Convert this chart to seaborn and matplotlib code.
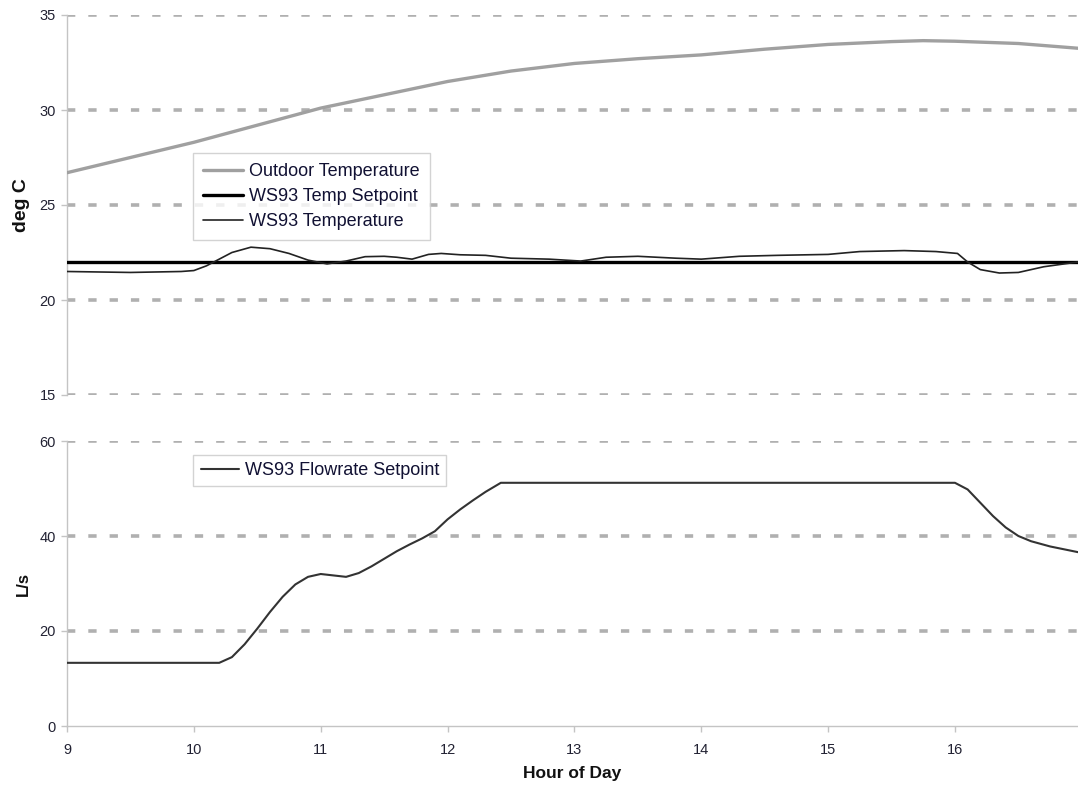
import matplotlib
matplotlib.use("Agg")
import matplotlib.pyplot as plt
import seaborn as sns
import pandas as pd

# ---------------- data ----------------
outdoor_hour = [9.0, 9.5, 10.0, 10.5, 11.0, 11.5, 12.0, 12.5, 13.0, 13.5, 14.0,
                14.5, 15.0, 15.5, 15.75, 16.0, 16.5, 16.97]
outdoor_temp = [26.7, 27.5, 28.3, 29.2, 30.1, 30.8, 31.5, 32.05, 32.45, 32.7, 32.9,
                33.2, 33.45, 33.6, 33.65, 33.62, 33.5, 33.25]

setpoint_hour = [9.0, 16.97]
setpoint_temp = [22.0, 22.0]

ws93_hour = [9.0, 9.5, 9.9, 10.0, 10.1, 10.2, 10.3, 10.45, 10.6, 10.75, 10.9, 11.05,
             11.2, 11.35, 11.5, 11.6, 11.72, 11.85, 11.95, 12.1, 12.3, 12.5, 12.8,
             13.05, 13.25, 13.5, 13.8, 14.0, 14.3, 14.6, 15.0, 15.25, 15.6, 15.85,
             16.02, 16.1, 16.2, 16.35, 16.5, 16.7, 16.97]
ws93_temp = [21.5, 21.45, 21.5, 21.55, 21.8, 22.15, 22.5, 22.78, 22.7, 22.45, 22.1, 21.9,
             22.05, 22.28, 22.3, 22.25, 22.15, 22.4, 22.45, 22.38, 22.35, 22.2, 22.15,
             22.05, 22.25, 22.3, 22.2, 22.15, 22.3, 22.35, 22.4, 22.55, 22.6, 22.55,
             22.45, 22.0, 21.6, 21.42, 21.45, 21.75, 22.0]

flow_hour = [9.0, 10.2, 10.3, 10.4, 10.5, 10.6, 10.7, 10.8, 10.9, 11.0, 11.1, 11.2,
             11.3, 11.4, 11.5, 11.6, 11.7, 11.8, 11.9, 12.0, 12.1, 12.2, 12.3, 12.42,
             16.0, 16.1, 16.2, 16.3, 16.4, 16.5, 16.6, 16.75, 16.97]
flow_rate = [13.3, 13.3, 14.5, 17.2, 20.5, 24.0, 27.2, 29.8, 31.4, 32.0, 31.7, 31.4,
             32.2, 33.6, 35.2, 36.8, 38.2, 39.5, 41.0, 43.5, 45.6, 47.5, 49.3, 51.2,
             51.2, 49.8, 47.0, 44.2, 41.8, 40.0, 38.9, 37.8, 36.6]

x_ticks = [9, 10, 11, 12, 13, 14, 15, 16]
top_yticks = [15, 20, 25, 30, 35]
bot_yticks = [0, 20, 40, 60]

# ---------------- style ----------------
sns.set_theme(style="white")
plt.rcParams["font.family"] = ["Liberation Sans", "DejaVu Sans"]

W, H = 1078, 785
fig = plt.figure(figsize=(W / 100, H / 100), dpi=100)
left = 67 / W
ax1 = fig.add_axes([left, 1 - 395 / H, 1 - left, (395 - 15) / H])
ax2 = fig.add_axes([left, 1 - 726 / H, 1 - left, (726 - 441) / H])

grid_kw = dict(color="#b0b0b0", lw=2.6, linestyle=(0, (2.3, 3.6)), zorder=0)
spine_c = "#c4c4c4"
tick_c = "#222233"

# top panel
df_out = pd.DataFrame({"hour": outdoor_hour, "val": outdoor_temp})
df_sp = pd.DataFrame({"hour": setpoint_hour, "val": setpoint_temp})
df_ws = pd.DataFrame({"hour": ws93_hour, "val": ws93_temp})

sns.lineplot(data=df_out, x="hour", y="val", ax=ax1, color="#a0a0a0", lw=2.4,
             label="Outdoor Temperature", zorder=3)
sns.lineplot(data=df_sp, x="hour", y="val", ax=ax1, color="#000000", lw=2.4,
             label="WS93 Temp Setpoint", zorder=3)
sns.lineplot(data=df_ws, x="hour", y="val", ax=ax1, color="#222222", lw=1.2,
             label="WS93 Temperature", zorder=4)

ax1.set_xlim(9, 16.97)
ax1.set_ylim(15, 35)
ax1.set_yticks(top_yticks)
ax1.set_xticks([])
for yv in top_yticks:
    ax1.axhline(yv, **grid_kw)
for s in ["top", "right", "bottom"]:
    ax1.spines[s].set_visible(False)
ax1.spines["left"].set_color(spine_c)
ax1.spines["left"].set_linewidth(1.0)
ax1.tick_params(axis="y", direction="out", length=4, width=1, color=spine_c,
                pad=4, labelsize=10.5, labelcolor=tick_c, left=True)
ax1.set_xlabel("")
ax1.set_ylabel("deg C", fontsize=14, fontweight="bold", color="#111111")
ax1.yaxis.set_label_coords(-37 / (W - 67), 0.5)
leg1 = ax1.legend(loc="upper left", bbox_to_anchor=(0.125, 0.637), borderaxespad=0,
                  fontsize=13, frameon=True, fancybox=False, handlelength=2.2,
                  handletextpad=0.35, labelspacing=0.45, borderpad=0.55)
leg1.get_frame().set_edgecolor("#c8c8c8")
leg1.get_frame().set_linewidth(1.0)
for t in leg1.get_texts():
    t.set_color("#111133")

# bottom panel
df_fl = pd.DataFrame({"hour": flow_hour, "val": flow_rate})
sns.lineplot(data=df_fl, x="hour", y="val", ax=ax2, color="#333333", lw=1.5,
             label="WS93 Flowrate Setpoint", zorder=3)
ax2.set_xlim(9, 16.97)
ax2.set_ylim(0, 60)
ax2.set_yticks(bot_yticks)
ax2.set_xticks(x_ticks)
for yv in bot_yticks[1:]:
    ax2.axhline(yv, **grid_kw)
for s in ["top", "right"]:
    ax2.spines[s].set_visible(False)
for s in ["left", "bottom"]:
    ax2.spines[s].set_color(spine_c)
    ax2.spines[s].set_linewidth(1.0)
ax2.tick_params(axis="both", direction="out", length=4, width=1, color=spine_c,
                pad=4, labelsize=10.5, labelcolor=tick_c, left=True, bottom=True)
ax2.tick_params(axis="x", pad=8)
ax2.set_ylabel("L/s", fontsize=12, fontweight="bold", color="#111111")
ax2.yaxis.set_label_coords(-36 / (W - 67), 0.5)
ax2.set_xlabel("Hour of Day", fontsize=12.5, fontweight="bold", color="#111111")
ax2.xaxis.set_label_coords(0.5, -40 / 285)
leg2 = ax2.legend(loc="upper left", bbox_to_anchor=(0.125, 0.951), borderaxespad=0,
                  fontsize=13, frameon=True, fancybox=False, handlelength=2.1,
                  handletextpad=0.35, borderpad=0.4)
leg2.get_frame().set_edgecolor("#c8c8c8")
leg2.get_frame().set_linewidth(1.0)
for t in leg2.get_texts():
    t.set_color("#111133")

fig.savefig("out.png", dpi=100, facecolor="white")
